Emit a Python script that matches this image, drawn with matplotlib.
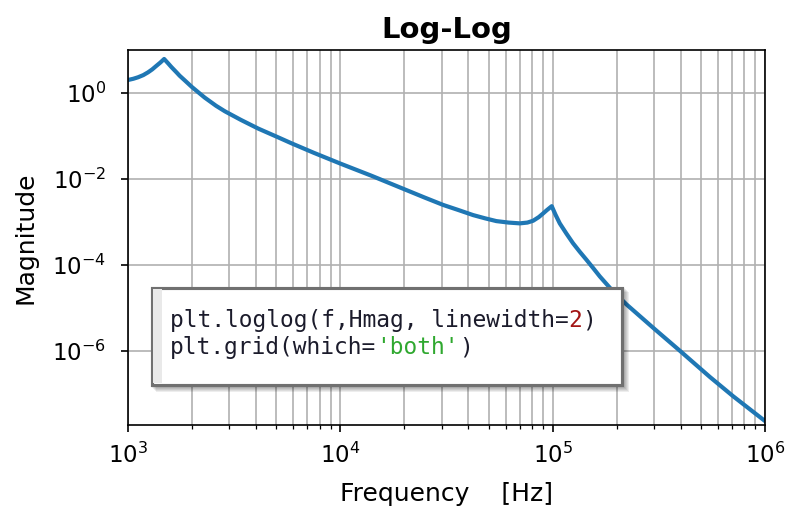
import matplotlib
matplotlib.use('Agg')
import matplotlib.pyplot as plt
from matplotlib.patches import Rectangle
from matplotlib.ticker import NullLocator

# values
f = [1000, 1060, 1115, 1180, 1243, 1300, 1362, 1420, 1480, 1550, 1600, 1700,
     1750, 1850, 2000, 2150, 2300, 2600, 2860, 3400, 4110, 5000, 5900, 7500,
     10000, 14000, 19700, 25000, 30500, 36000, 42200, 48000, 54300, 62000,
     70000, 76000, 80900, 86000, 90100, 94000, 99000, 103000, 108000, 116000,
     124700, 134000, 144200, 155000, 166700, 190000, 222700, 300000, 397200,
     550000, 708000, 1000000]
Hmag = [2.04, 2.18, 2.36, 2.65, 3.08, 3.6, 4.38, 5.2, 6.3, 4.9, 4.1, 3.0,
        2.57, 2.0, 1.40, 1.04, 0.79, 0.51, 0.38, 0.24, 0.15, 0.098, 0.068, 0.041,
        0.023, 0.012, 0.0060, 0.0037, 0.0025, 0.0019, 0.00145, 0.00122, 0.00105, 0.00097,
        0.00093, 0.00097, 0.00107, 0.0013, 0.00158, 0.0019, 0.00234, 0.0015, 0.00093, 0.00054,
        0.00032, 0.000204, 0.000132, 8.5e-5, 5.4e-5, 2.6e-5, 1.2e-5, 3.3e-6, 1.0e-6,
        2.45e-7, 8.7e-8, 2.3e-8]
yticks = [1e0, 1e-2, 1e-4, 1e-6]
xlim = (1e3, 1e6)
ylim = (1.86e-8, 10.2)

dark = '#1b1b2b'
code_lines = [
    [("plt.loglog(f,Hmag, linewidth=", dark), ("2", '#a31515'), (")", dark)],
    [("plt.grid(which=", dark), ("'both'", '#2fa82f'), (")", dark)],
]

W, H = 787, 509
fig = plt.figure(figsize=(W / 150, H / 150), dpi=150)
ax = fig.add_axes([128 / W, 1 - 425 / H, (765 - 128) / W, (425 - 50) / H])
ax.loglog(f, Hmag, linewidth=2)
ax.grid(which='both')
ax.set_xlim(xlim)
ax.set_ylim(ylim)
ax.set_yticks(yticks)
ax.yaxis.set_minor_locator(NullLocator())
ax.tick_params(axis='both', which='major', labelsize=11)
ax.tick_params(axis='y', pad=7)
ax.tick_params(axis='x', which='major', pad=5)
ax.set_title('Log-Log', fontsize=14, fontweight='bold')
ax.set_xlabel('Frequency    [Hz]', fontsize=12, labelpad=7)
ax.set_ylabel('Magnitude', fontsize=12, labelpad=7)

# overlay in pixel units for the code box
ov = fig.add_axes([0, 0, 1, 1], zorder=5)
ov.set_xlim(0, W)
ov.set_ylim(H, 0)
ov.axis('off')

for o in [6, 5, 4, 3, 2]:
    ov.add_patch(Rectangle((150 + o, 286 + o), 473, 100, facecolor='black',
                           edgecolor='none', alpha=0.07))
ov.add_patch(Rectangle((151.5, 287.5), 470, 97, facecolor='white',
                       edgecolor='#707070', linewidth=1.5))
ov.add_patch(Rectangle((153, 289), 9, 94, facecolor='#e9e9e9', edgecolor='none'))

for i, parts in enumerate(code_lines):
    y = 327 + 27 * i
    t = None
    for s, c in parts:
        kw = dict(color=c, family='DejaVu Sans Mono', fontsize=11, ha='left')
        if t is None:
            t = ov.annotate(s, xy=(170, y), xycoords='data', va='baseline', **kw)
        else:
            t = ov.annotate(s, xy=(1, 0), xycoords=t, va='bottom', **kw)

fig.savefig('out.png', dpi=150)
